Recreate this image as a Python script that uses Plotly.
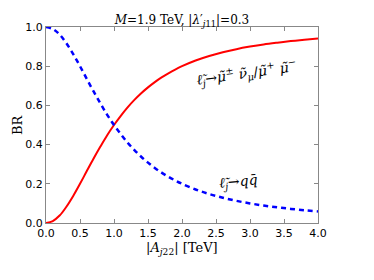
import plotly.graph_objects as go

A_vals = [0.0, 0.1, 0.2, 0.3, 0.4, 0.5, 0.6, 0.7, 0.8, 0.9, 1.0, 1.1, 1.2, 1.3, 1.4, 1.5,
          1.6, 1.7, 1.8, 1.9, 2.0, 2.2, 2.4, 2.6, 2.8, 3.0, 3.2, 3.4, 3.6, 3.8, 4.0]
br_mumu = [0.0, 0.010, 0.038, 0.083, 0.138, 0.200, 0.265, 0.329, 0.390, 0.448, 0.500, 0.547,
           0.590, 0.628, 0.662, 0.692, 0.719, 0.743, 0.764, 0.783, 0.800, 0.829, 0.852,
           0.871, 0.887, 0.900, 0.911, 0.920, 0.928, 0.935, 0.941]
br_qq = [1.0, 0.990, 0.962, 0.917, 0.862, 0.800, 0.735, 0.671, 0.610, 0.552, 0.500, 0.453,
         0.410, 0.372, 0.338, 0.308, 0.281, 0.257, 0.236, 0.217, 0.200, 0.171, 0.148,
         0.129, 0.113, 0.100, 0.089, 0.080, 0.072, 0.065, 0.059]
x_ticks = [0.0, 0.5, 1.0, 1.5, 2.0, 2.5, 3.0, 3.5, 4.0]
y_ticks = [0.0, 0.2, 0.4, 0.6, 0.8, 1.0]

serif = "DejaVu Serif"
sans = "DejaVu Sans"

fig = go.Figure()
fig.add_trace(go.Scatter(x=A_vals, y=br_mumu, mode="lines",
                         line=dict(color="#ff0000", width=2, shape="spline"),
                         showlegend=False))
fig.add_trace(go.Scatter(x=A_vals, y=br_qq, mode="lines",
                         line=dict(color="#0000ff", width=2.5, dash="5px,4px", shape="spline"),
                         showlegend=False))

axis_common = dict(showgrid=False, zeroline=False, showline=True, linecolor="#888888",
                   linewidth=1, mirror="allticks", ticks="inside", ticklen=4,
                   tickcolor="#888888", automargin=False,
                   tickfont=dict(family=sans, size=11, color="black"))

fig.update_xaxes(range=[0, 4], tickvals=x_ticks, ticktext=[f"{v:.1f}" for v in x_ticks],
                 **axis_common)
fig.update_yaxes(range=[0, 1], tickvals=y_ticks, ticktext=[f"{v:.1f}" for v in y_ticks],
                 **axis_common)

# axis titles
fig.add_annotation(x=0.5, y=0, xref="paper", yref="paper", showarrow=False,
                   xanchor="center", yanchor="middle", yshift=-25,
                   text="|<i>A</i><sub><i>j</i>22</sub>| [TeV]",
                   font=dict(family=serif, size=13, color="black"))
fig.add_annotation(x=0, y=0.5, xref="paper", yref="paper", showarrow=False,
                   xanchor="center", yanchor="middle", xshift=-29, textangle=-90,
                   text="BR", font=dict(family=serif, size=13, color="black"))

fig.add_annotation(x=2.95, y=0.765, xref="x", yref="y", showarrow=False, textangle=-8,
                   text="<i>ℓ̃</i><sub><i>j</i></sub>→<i>μ̃</i><sup>±</sup> <i>ν̃</i><sub><i>μ</i></sub>/<i>μ̃</i><sup>+</sup> <i>μ̃</i><sup>−</sup>",
                   font=dict(family=serif, size=14, color="black"))
fig.add_annotation(x=2.83, y=0.21, xref="x", yref="y", showarrow=False, textangle=-5,
                   text="<i>ℓ̃</i><sub><i>j</i></sub>→<i>q</i><i>q̄</i>",
                   font=dict(family=serif, size=14, color="black"))

fig.update_layout(
    width=366, height=272,
    margin=dict(l=38, r=56, t=19, b=57),
    paper_bgcolor="white", plot_bgcolor="white",
    title=dict(text="<i>M</i>=1.9 TeV, |<i>λ</i>′<sub><i>j</i>11</sub>|=0.3",
               x=0.5, xref="paper", xanchor="center", y=0.955, yref="container",
               yanchor="middle", automargin=False,
               font=dict(family=serif, size=12, color="black")),
)

fig.write_html("out.html")
